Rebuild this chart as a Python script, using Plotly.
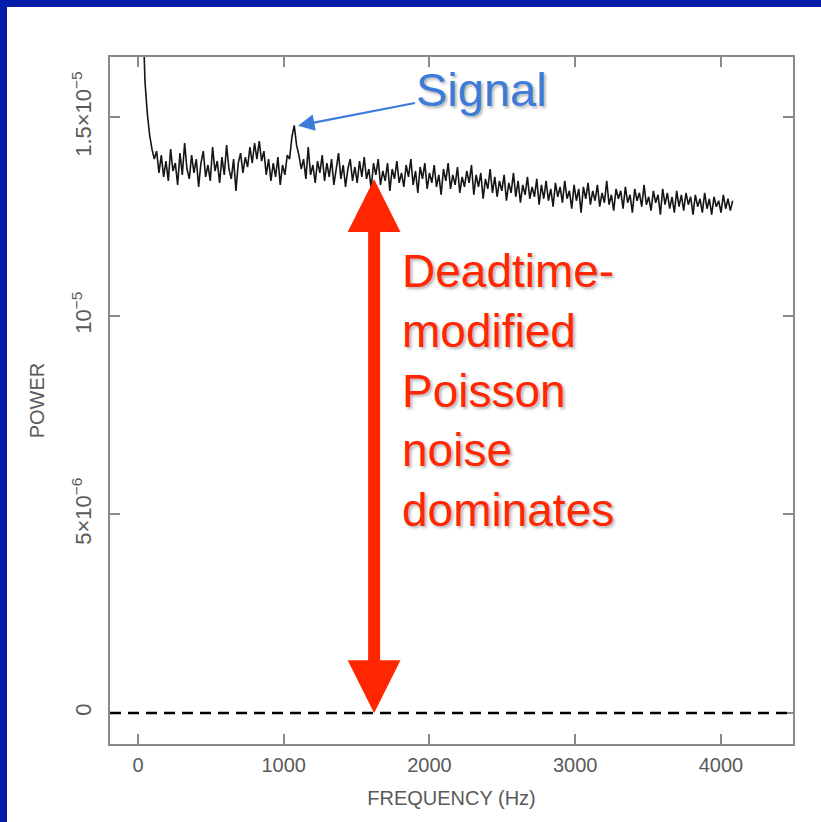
import plotly.graph_objects as go

# ---------------- data ----------------
FREQ_HZ = [
    0, 16, 32, 48, 64, 80, 96, 112, 128, 144, 160, 176, 192, 208, 224, 240,
    256, 272, 288, 304, 320, 336, 352, 368, 384, 400, 416, 432, 448, 464, 480, 496,
    512, 528, 544, 560, 576, 592, 608, 624, 640, 656, 672, 688, 704, 720, 736, 752,
    768, 784, 800, 816, 832, 848, 864, 880, 896, 912, 928, 944, 960, 976, 992, 1008,
    1024, 1040, 1056, 1072, 1088, 1104, 1120, 1136, 1152, 1168, 1184, 1200, 1216, 1232, 1248, 1264,
    1280, 1296, 1312, 1328, 1344, 1360, 1376, 1392, 1408, 1424, 1440, 1456, 1472, 1488, 1504, 1520,
    1536, 1552, 1568, 1584, 1600, 1616, 1632, 1648, 1664, 1680, 1696, 1712, 1728, 1744, 1760, 1776,
    1792, 1808, 1824, 1840, 1856, 1872, 1888, 1904, 1920, 1936, 1952, 1968, 1984, 2000, 2016, 2032,
    2048, 2064, 2080, 2096, 2112, 2128, 2144, 2160, 2176, 2192, 2208, 2224, 2240, 2256, 2272, 2288,
    2304, 2320, 2336, 2352, 2368, 2384, 2400, 2416, 2432, 2448, 2464, 2480, 2496, 2512, 2528, 2544,
    2560, 2576, 2592, 2608, 2624, 2640, 2656, 2672, 2688, 2704, 2720, 2736, 2752, 2768, 2784, 2800,
    2816, 2832, 2848, 2864, 2880, 2896, 2912, 2928, 2944, 2960, 2976, 2992, 3008, 3024, 3040, 3056,
    3072, 3088, 3104, 3120, 3136, 3152, 3168, 3184, 3200, 3216, 3232, 3248, 3264, 3280, 3296, 3312,
    3328, 3344, 3360, 3376, 3392, 3408, 3424, 3440, 3456, 3472, 3488, 3504, 3520, 3536, 3552, 3568,
    3584, 3600, 3616, 3632, 3648, 3664, 3680, 3696, 3712, 3728, 3744, 3760, 3776, 3792, 3808, 3824,
    3840, 3856, 3872, 3888, 3904, 3920, 3936, 3952, 3968, 3984, 4000, 4016, 4032, 4048, 4064, 4080,
]

# power in units of 1e-6
POWER_E6 = [
    40.00, 24.00, 17.80, 15.90, 15.10, 14.55, 14.20, 13.95, 14.15, 13.60, 14.05, 13.50, 13.90, 13.40, 14.20, 13.65,
    13.85, 13.30, 14.10, 13.55, 14.35, 13.70, 13.45, 14.05, 13.60, 13.95, 13.25, 13.85, 14.15, 13.50, 13.80, 13.40,
    14.25, 13.65, 13.90, 13.35, 14.00, 13.55, 14.30, 13.70, 13.45, 13.95, 13.15, 13.85, 14.10, 13.60, 14.00, 13.75,
    14.25, 13.85, 14.35, 13.95, 14.40, 13.90, 14.15, 13.55, 13.95, 13.40, 13.85, 13.50, 14.00, 13.30, 13.80, 13.55,
    14.05, 13.95, 14.50, 14.80, 14.30, 14.05, 13.70, 13.95, 13.45, 14.25, 13.55, 13.80, 13.35, 13.90, 13.60, 14.05,
    13.40, 13.85, 13.50, 13.95, 13.30, 13.75, 14.10, 13.45, 13.80, 13.25, 13.70, 13.95, 13.40, 13.75, 13.35, 13.90,
    13.50, 14.00, 13.45, 13.70, 13.20, 13.85, 13.55, 13.95, 13.30, 13.65, 13.40, 13.85, 13.15, 13.70, 13.45, 13.90,
    13.35, 13.60, 13.25, 13.80, 13.50, 13.95, 13.30, 13.65, 13.10, 13.75, 13.45, 13.85, 13.20, 13.60, 13.35, 13.80,
    13.25, 13.55, 13.05, 13.70, 13.40, 13.85, 13.20, 13.55, 13.30, 13.75, 13.10, 13.50, 13.25, 13.65, 13.35, 13.80,
    13.05, 13.55, 13.25, 13.60, 12.95, 13.45, 13.20, 13.70, 13.10, 13.50, 13.00, 13.40, 13.15, 13.55, 12.90, 13.35,
    13.10, 13.60, 13.00, 13.40, 12.85, 13.30, 13.05, 13.50, 12.95, 13.25, 13.00, 13.45, 12.80, 13.30, 12.95, 13.40,
    12.90, 13.20, 12.75, 13.35, 13.00, 13.25, 12.85, 13.40, 12.95, 13.15, 12.70, 13.30, 12.90, 13.20, 12.60, 13.25,
    12.95, 13.35, 12.80, 13.15, 12.90, 13.30, 12.75, 13.10, 12.85, 13.40, 12.80, 13.05, 12.65, 13.20, 12.95, 13.15,
    12.70, 13.25, 12.85, 13.05, 12.60, 13.20, 12.90, 13.10, 12.75, 13.30, 12.80, 13.00, 12.65, 13.15, 12.85, 13.05,
    12.55, 13.20, 12.80, 13.10, 12.70, 13.00, 12.60, 13.15, 12.75, 13.05, 12.65, 13.10, 12.80, 13.00, 12.55, 13.05,
    12.75, 12.95, 12.60, 13.10, 12.70, 12.95, 12.55, 13.00, 12.75, 12.90, 12.60, 13.05, 12.70, 12.95, 12.65, 12.90,
]

X_TICKS = [0, 1000, 2000, 3000, 4000]
Y_TICKS = [0, 5, 10, 15]
Y_TICK_TEXT = ["0", "5×10<sup>−6</sup>", "10<sup>−5</sup>", "1.5×10<sup>−5</sup>"]

SIGNAL_FREQ, SIGNAL_POWER = 1098, 14.79          # tip of the blue arrow
SIGNAL_LABEL_FREQ, SIGNAL_LABEL_POWER = 2360, 15.69
NOISE_FREQ, NOISE_LEVEL = 1620, 13.48            # red double arrow
NOISE_TEXT_FREQ, NOISE_TEXT_POWER = 1798, 8.11

X_RANGE = [-192, 4494]
Y_RANGE = [-0.78, 16.52]

# ---------------- figure ----------------
FONT = "Liberation Sans, Arial, Helvetica, sans-serif"
AXIS_GRAY = "#8a8a8a"
RED = "#FF2600"
BLUE = "#3C7BDA"

fig = go.Figure()
fig.add_trace(go.Scatter(
    x=FREQ_HZ, y=POWER_E6, mode="lines",
    line=dict(color="#151515", width=1.6),
    showlegend=False, hoverinfo="skip",
))

axis_common = dict(
    showgrid=False, zeroline=False,
    showline=True, linecolor=AXIS_GRAY, linewidth=1.5,
    mirror="ticks", ticks="inside", ticklen=10, tickwidth=1.5, tickcolor=AXIS_GRAY,
)

fig.update_xaxes(
    range=X_RANGE, tickvals=X_TICKS, ticktext=[str(v) for v in X_TICKS],
    tickfont=dict(family=FONT, size=20, color="#5a5a5a"),
    title=dict(text="FREQUENCY (Hz)", font=dict(family=FONT, size=20, color="#5a5a5a"), standoff=16),
    ticklabelstandoff=2,
    **axis_common,
)
fig.update_yaxes(
    range=Y_RANGE, tickvals=Y_TICKS, ticktext=Y_TICK_TEXT, tickangle=-90,
    tickfont=dict(family=FONT, size=22, color="#5a5a5a"),
    title=dict(text="POWER", font=dict(family=FONT, size=20, color="#5a5a5a"), standoff=18),
    ticklabelstandoff=8,
    **axis_common,
)

# dashed zero line
fig.add_shape(type="line", xref="paper", x0=0, x1=1, yref="y", y0=0, y1=0,
              line=dict(color="black", width=2.5, dash="11px,7px"), layer="above")

# blue frame bands (top and left edges of the slide)
FRAME_BLUE = "#031CA9"
fig.add_shape(type="rect", xref="paper", x0=-1, x1=2, yref="paper", ysizemode="pixel",
              yanchor=1, y0=50, y1=80, fillcolor=FRAME_BLUE, line=dict(width=0), layer="above")
fig.add_shape(type="rect", yref="paper", y0=-1, y1=2, xref="paper", xsizemode="pixel",
              xanchor=0, x0=-140, x1=-103, fillcolor=FRAME_BLUE, line=dict(width=0), layer="above")

shadow = "2px 2px 3px rgba(0,0,0,0.3)"

# Signal annotation with arrow
fig.add_annotation(
    x=SIGNAL_FREQ, y=SIGNAL_POWER, xref="x", yref="y",
    ax=SIGNAL_LABEL_FREQ, ay=SIGNAL_LABEL_POWER, axref="x", ayref="y",
    text="Signal", showarrow=True, arrowhead=2, arrowwidth=2.2, arrowsize=1.5,
    arrowcolor=BLUE, standoff=0,
    font=dict(family=FONT, size=47, color=BLUE, shadow=shadow),
)

# red double arrow
fig.add_annotation(
    x=NOISE_FREQ, y=0, xref="x", yref="y",
    ax=NOISE_FREQ, ay=NOISE_LEVEL, axref="x", ayref="y",
    text="", showarrow=True, arrowside="end+start",
    arrowhead=2, startarrowhead=2, arrowwidth=12, arrowsize=0.88, startarrowsize=0.88,
    arrowcolor=RED, standoff=0, startstandoff=0,
)

# red text
fig.add_annotation(
    x=NOISE_TEXT_FREQ, y=NOISE_TEXT_POWER, xref="x", yref="y",
    xanchor="left", yanchor="middle", align="left", showarrow=False,
    text="Deadtime-<br>modified<br>Poisson<br>noise<br>dominates",
    font=dict(family=FONT, size=46, color=RED, shadow=shadow),
)

fig.update_layout(
    width=821, height=822,
    margin=dict(l=110, r=28, t=57, b=78),
    plot_bgcolor="white", paper_bgcolor="white",
)

fig.write_html("out.html")
